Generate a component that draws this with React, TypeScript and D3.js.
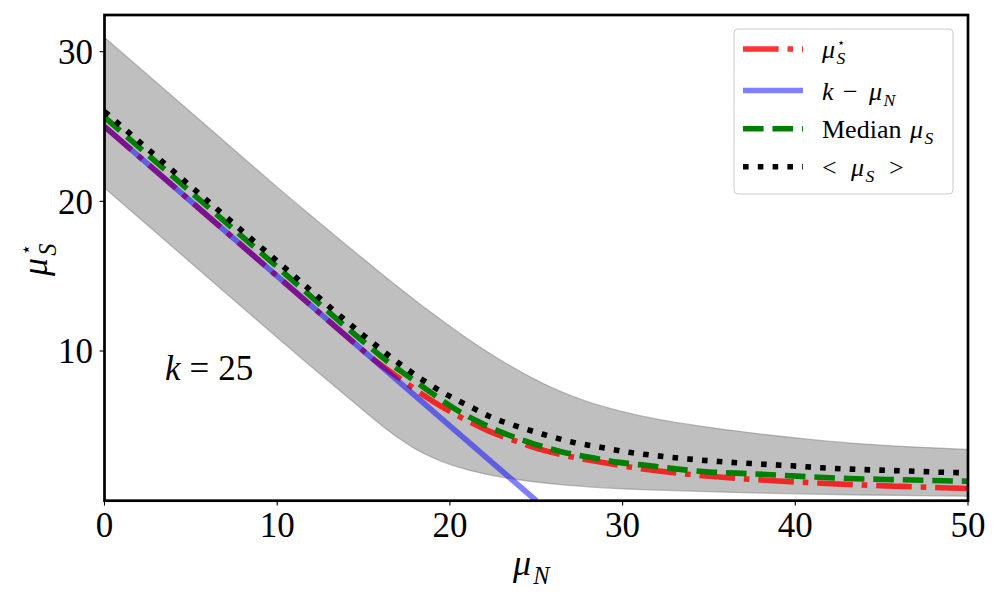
import React from 'react';
import * as d3 from 'd3';

// ---------- data ----------
const K = 25;
const X_TICKS = [0, 10, 20, 30, 40, 50];
const Y_TICKS = [10, 20, 30];

// mu_S^* curve
const RED_X = [0, 5, 10, 14, 15.5, 17.3, 19.2, 20.7, 22.2, 23.9, 25.4, 27, 28.7, 30.5, 32.1, 35.4, 39, 42.4, 45.8, 49, 50];
const RED_Y = [25, 20, 15, 11, 9.52, 8.0, 6.5, 5.53, 4.68, 3.95, 3.38, 2.94, 2.58, 2.24, 1.98, 1.6, 1.32, 1.12, 0.97, 0.85, 0.82];

// k - mu_N line
const KLINE_X = [0, K];
const KLINE_Y = [K, 0];

// Median mu_S
const MED_X = [0, 5, 10, 15, 16.5, 17.6, 18.75, 20.2, 21.7, 23.3, 24.85, 26.5, 28.1, 29.8, 31.6, 33.2, 35, 36.6, 38.3, 40.1, 41.7, 43.5, 45.2, 46.9, 48.6, 50];
const MED_Y = [25.62, 20.62, 15.62, 10.62, 9.2, 8.3, 7.35, 6.2, 5.25, 4.43, 3.8, 3.26, 2.9, 2.56, 2.33, 2.11, 1.92, 1.84, 1.75, 1.64, 1.55, 1.47, 1.42, 1.38, 1.33, 1.3];

// <mu_S>
const MEAN_X = [0, 5, 10, 15, 16.8, 18.46, 19.95, 21.47, 22.24, 23.8, 25.45, 27.1, 28.8, 30.47, 32.16, 33.86, 35.57, 38.1, 39.8, 41.5, 43.2, 44.9, 46.6, 48.3, 50];
const MEAN_Y = [26, 21, 16, 11.05, 9.4, 8.04, 7.0, 6.11, 5.66, 5.0, 4.42, 3.91, 3.55, 3.22, 2.98, 2.78, 2.62, 2.44, 2.33, 2.2, 2.11, 2.04, 1.98, 1.91, 1.86];

// shaded band
const BAND_X = [0, 5, 10, 12, 14, 15, 16, 17, 18, 19, 20, 21, 22, 23, 24, 25, 26, 28, 30, 32, 35, 38, 41, 44, 47, 50];
const BAND_HI = [30.95, 25.95, 20.95, 19.0, 17.08, 16.14, 15.2, 14.28, 13.38, 12.5, 11.65, 10.84, 10.07, 9.35, 8.68, 8.06, 7.5, 6.6, 5.95, 5.45, 4.9, 4.45, 4.08, 3.78, 3.58, 3.42];
const BAND_LO = [20.9, 15.9, 10.9, 8.93, 7.0, 6.02, 5.07, 4.2, 3.46, 2.88, 2.43, 2.07, 1.8, 1.58, 1.4, 1.25, 1.12, 0.93, 0.8, 0.71, 0.6, 0.51, 0.44, 0.38, 0.34, 0.3];

// annotation position (data coords)
const ANNOT_X = 3.5;
const ANNOT_Y = 8.06;

// ---------- styling ----------
const SERIF = '"Liberation Serif", "DejaVu Serif", serif';
const STAR_FONT = '"DejaVu Sans", sans-serif';
const LW = 5.6;
const RED_DASH = '35.6 8.9 5.6 8.9';
const GREEN_DASH = '20.6 8.9';
const BLACK_DASH = '5.6 9.2';

function Mu({ x, y, fs, sub, star }: { x: number; y: number; fs: number; sub: string; star?: boolean }) {
  const subX = x + fs * 0.56;
  return (
    <g fontFamily={SERIF} fill="#000">
      <text x={x} y={y} fontSize={fs} fontStyle="italic">μ</text>
      {star && (
        <text x={subX + fs * 0.02} y={y - fs * 0.42} fontSize={fs * 0.5} fontFamily={STAR_FONT}>⋆</text>
      )}
      <text x={subX} y={y + fs * 0.24} fontSize={fs * 0.68} fontStyle="italic">{sub}</text>
    </g>
  );
}

export default function App() {
  const W = 1000;
  const H = 600;
  const x = d3.scaleLinear().domain([0, 50]).range([104.5, 968]);
  const y = d3.scaleLinear().domain([0, 32.45]).range([500.7, 15]);
  const [x0, x1] = x.range();
  const [yb, yt] = y.range();

  const pts = (xs: number[], ys: number[]) => xs.map((v, i) => [v, ys[i]] as [number, number]);
  const line = d3
    .line<[number, number]>()
    .x((d) => x(d[0]))
    .y((d) => y(d[1]))
    .curve(d3.curveMonotoneX);
  const straight = d3
    .line<[number, number]>()
    .x((d) => x(d[0]))
    .y((d) => y(d[1]));
  const area = d3
    .area<number>()
    .x((_, i) => x(BAND_X[i]))
    .y0((_, i) => y(BAND_LO[i]))
    .y1((_, i) => y(BAND_HI[i]))
    .curve(d3.curveMonotoneX);

  const bandPath = area(BAND_X) || '';
  const redPath = line(pts(RED_X, RED_Y)) || '';
  const bluePath = straight(pts(KLINE_X, KLINE_Y)) || '';
  const medPath = line(pts(MED_X, MED_Y)) || '';
  const meanPath = line(pts(MEAN_X, MEAN_Y)) || '';

  const legendRows = [
    { cy: 49, stroke: '#ff0000', op: 0.8, dash: RED_DASH },
    { cy: 90.5, stroke: '#0000ff', op: 0.5, dash: undefined },
    { cy: 128.7, stroke: '#008000', op: 1, dash: GREEN_DASH },
    { cy: 166.7, stroke: '#000000', op: 1, dash: BLACK_DASH },
  ];
  const hx0 = 743;
  const hx1 = 803;
  const lfs = 26;

  return (
    <svg
      width={W}
      height={H}
      viewBox={`0 0 ${W} ${H}`}
      style={{ position: 'absolute', left: 0, top: 0, background: '#fff' }}
    >
      <defs>
        <clipPath id="plotClip">
          <rect x={x0} y={yt} width={x1 - x0} height={yb - yt} />
        </clipPath>
      </defs>
      <rect x={0} y={0} width={W} height={H} fill="#fff" />

      <g clipPath="url(#plotClip)">
        <path d={bandPath} fill="#808080" fillOpacity={0.5} stroke="#808080" strokeOpacity={0.5} strokeWidth={1.3} />
        <path d={redPath} fill="none" stroke="#ff0000" strokeOpacity={0.8} strokeWidth={LW} strokeDasharray={RED_DASH} />
        <path d={bluePath} fill="none" stroke="#0000ff" strokeOpacity={0.5} strokeWidth={LW} />
        <path d={medPath} fill="none" stroke="#008000" strokeWidth={LW} strokeDasharray={GREEN_DASH} />
        <path d={meanPath} fill="none" stroke="#000000" strokeWidth={LW} strokeDasharray={BLACK_DASH} />
      </g>

      {/* annotation */}
      <text x={x(ANNOT_X)} y={y(ANNOT_Y)} fontFamily={SERIF} fontSize={35}>
        <tspan fontStyle="italic">k</tspan>
        <tspan dx={9}>=</tspan>
        <tspan dx={9}>{String(K)}</tspan>
      </text>

      {/* axes frame */}
      <rect x={x0} y={yt} width={x1 - x0} height={yb - yt} fill="none" stroke="#000" strokeWidth={2.7} />

      {/* x ticks */}
      {X_TICKS.map((t) => (
        <g key={`xt${t}`}>
          <line x1={x(t)} x2={x(t)} y1={yb} y2={yb + 4.9} stroke="#000" strokeWidth={1.1} />
          <text x={x(t)} y={537} textAnchor="middle" fontFamily={SERIF} fontSize={35}>
            {t}
          </text>
        </g>
      ))}
      {/* y ticks */}
      {Y_TICKS.map((t) => (
        <g key={`yt${t}`}>
          <line x1={x0} x2={x0 - 4.9} y1={y(t)} y2={y(t)} stroke="#000" strokeWidth={1.1} />
          <text x={93} y={y(t)} dy="0.35em" textAnchor="end" fontFamily={SERIF} fontSize={35}>
            {t}
          </text>
        </g>
      ))}

      {/* axis labels */}
      <Mu x={513} y={575} fs={36} sub="N" />
      <g transform="translate(47,276) rotate(-90)">
        <Mu x={0} y={0} fs={36} sub="S" star />
      </g>

      {/* legend */}
      <rect x={734} y={29} width={219} height={165} rx={4} ry={4} fill="#fff" fillOpacity={0.8} stroke="#cccccc" strokeWidth={1} />
      {legendRows.map((r, i) => (
        <line
          key={`lg${i}`}
          x1={hx0}
          x2={hx1}
          y1={r.cy}
          y2={r.cy}
          stroke={r.stroke}
          strokeOpacity={r.op}
          strokeWidth={LW}
          strokeDasharray={r.dash}
        />
      ))}
      <Mu x={822} y={58} fs={lfs} sub="S" star />
      <g fontFamily={SERIF} fontSize={lfs}>
        <text x={822} y={99.5} fontStyle="italic">k</text>
        <text x={843} y={99.5}>−</text>
      </g>
      <Mu x={869} y={99.5} fs={lfs} sub="N" />
      <text x={822} y={137.5} fontFamily={SERIF} fontSize={lfs}>Median</text>
      <Mu x={910} y={137.5} fs={lfs} sub="S" />
      <text x={822} y={175.5} fontFamily={SERIF} fontSize={lfs}>&lt;</text>
      <Mu x={851} y={175.5} fs={lfs} sub="S" />
      <text x={889} y={175.5} fontFamily={SERIF} fontSize={lfs}>&gt;</text>
    </svg>
  );
}
